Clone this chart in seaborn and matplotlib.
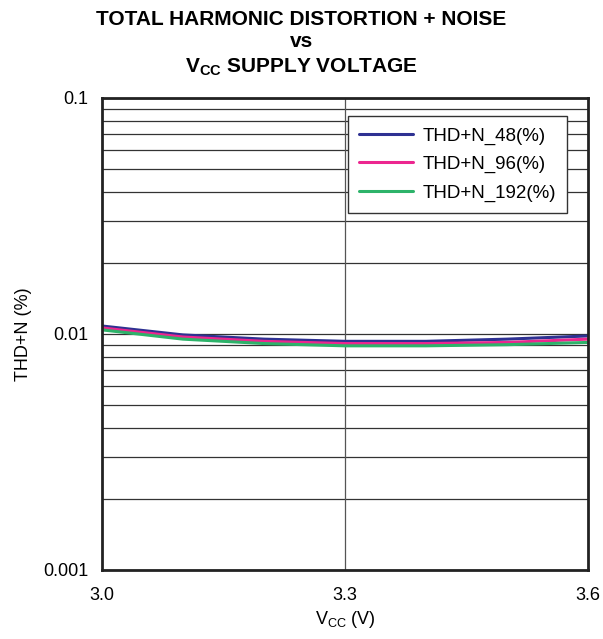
import numpy as np
import pandas as pd
import seaborn as sns
import matplotlib.pyplot as plt
from matplotlib.ticker import LogLocator, NullFormatter, FixedLocator

sns.set_style('white', {'text.color': 'black', 'axes.labelcolor': 'black',
                        'xtick.color': 'black', 'ytick.color': 'black'})
plt.rcParams['font.family'] = ['Liberation Sans', 'DejaVu Sans']
plt.rcParams['mathtext.fontset'] = 'custom'
plt.rcParams['mathtext.rm'] = 'Liberation Sans'
plt.rcParams['mathtext.bf'] = 'Liberation Sans:bold'

vcc = [3.0, 3.1, 3.2, 3.3, 3.4, 3.5, 3.6]
thd_48 = [0.0108, 0.0099, 0.0095, 0.0093, 0.0093, 0.0095, 0.0098]
thd_96 = [0.0106, 0.0097, 0.0093, 0.0091, 0.0091, 0.0092, 0.0095]
thd_192 = [0.0104, 0.0095, 0.0091, 0.0089, 0.0089, 0.0090, 0.0092]
series = ['THD+N_48(%)', 'THD+N_96(%)', 'THD+N_192(%)']
colors = ['#2E3192', '#EC268F', '#2DB36A']

df = pd.DataFrame({
    'vcc': vcc * 3,
    'thd': thd_48 + thd_96 + thd_192,
    'series': [s for s in series for _ in vcc],
})

fig = plt.figure(figsize=(6.03, 6.39), dpi=100)
ax = fig.add_axes([0.169, 0.108, 0.806, 0.739])

sns.lineplot(data=df, x='vcc', y='thd', hue='series', palette=colors,
             linewidth=2.2, ax=ax)

ax.set_yscale('log')
ax.set_xlim(3.0, 3.6)
ax.set_ylim(0.001, 0.1)

# grid: horizontal at every log tick, vertical only at 3.3
ax.yaxis.set_major_locator(FixedLocator([0.001, 0.01, 0.1]))
ax.yaxis.set_minor_locator(LogLocator(base=10, subs=np.arange(2, 10)))
ax.yaxis.set_minor_formatter(NullFormatter())
ax.set_yticklabels(['0.001', '0.01', '0.1'])
ax.set_xticks([3.0, 3.3, 3.6])
ax.set_xticklabels(['3.0', '3.3', '3.6'])
ax.grid(True, which='both', axis='y', color='#333333', linewidth=0.9)
ax.axvline(3.3, color='#555555', linewidth=0.9, zorder=1)
ax.tick_params(axis='both', which='both', length=0, labelsize=13)
ax.tick_params(axis='x', pad=12)
ax.tick_params(axis='y', pad=10)
for sp in ax.spines.values():
    sp.set_linewidth(2)
    sp.set_color('#222222')

ax.set_xlabel('V$_{\\mathrm{CC}}$ (V)', fontsize=13, labelpad=4)
ax.set_ylabel('THD+N (%)', fontsize=13, labelpad=8)

leg = ax.legend(title=None, loc='upper right', bbox_to_anchor=(0.977, 0.981),
                fontsize=13.5, frameon=True, fancybox=False, framealpha=1,
                edgecolor='#333333', handlelength=2.9, handletextpad=0.5,
                borderpad=0.6, labelspacing=0.6)
leg.get_frame().set_linewidth(1)

fig.text(0.5, 0.961, 'TOTAL HARMONIC DISTORTION + NOISE', ha='center', va='baseline',
         fontsize=15, fontweight='bold')
fig.text(0.5, 0.926, 'vs', ha='center', va='baseline', fontsize=15, fontweight='bold')
fig.text(0.5, 0.887, '$\\mathbf{V_{CC}}$ SUPPLY VOLTAGE', ha='center', va='baseline',
         fontsize=15, fontweight='bold')

fig.savefig('out.png', dpi=100)
